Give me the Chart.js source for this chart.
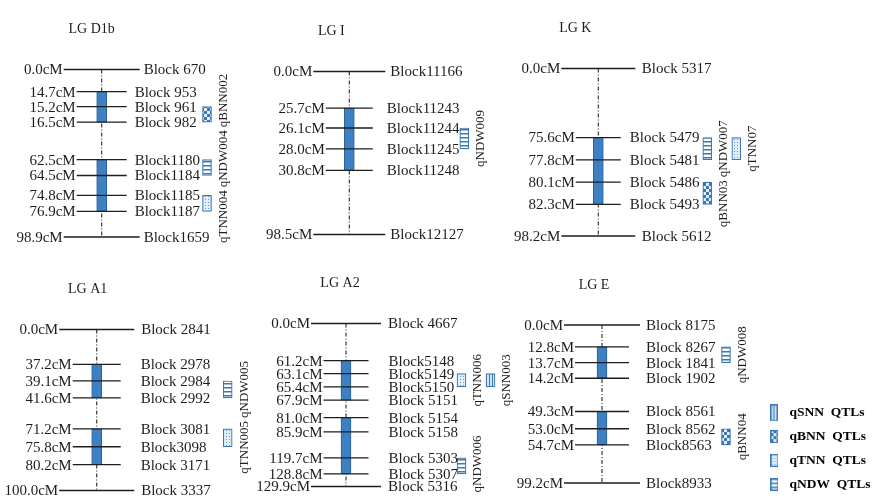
<!DOCTYPE html>
<html>
<head>
<meta charset="utf-8">
<script src="https://cdn.jsdelivr.net/npm/chart.js@4.4.1/dist/chart.umd.min.js"></script>
<style>
  html, body { margin: 0; padding: 0; background: #fff; width: 872px; height: 502px; overflow: hidden; position: relative; }
  canvas { position: absolute; }
</style>
</head>
<body>
<script>
// ---- data ----
const groupNames = ['LG D1b', 'LG I', 'LG K', 'LG A1', 'LG A2', 'LG E'];

const d1bCM = [0.0, 14.7, 15.2, 16.5, 62.5, 64.5, 74.8, 76.9, 98.9];
const d1bBlocks = ['Block 670', 'Block 953', 'Block 961', 'Block 982', 'Block1180', 'Block1184', 'Block1185', 'Block1187', 'Block1659'];
const d1bSegments = [[14.7, 16.5], [62.5, 76.9]];
const d1bQtls = ['qBNN002', 'qNDW004', 'qTNN004'];
const d1bQtlSpans = [[15.2, 16.5], [62.5, 64.5], [74.8, 76.9]];

const lgiCM = [0.0, 25.7, 26.1, 28.0, 30.8, 98.5];
const lgiBlocks = ['Block11166', 'Block11243', 'Block11244', 'Block11245', 'Block11248', 'Block12127'];
const lgiSegments = [[25.7, 30.8]];
const lgiQtls = ['qNDW009'];
const lgiQtlSpans = [[26.1, 28.0]];

const lgkCM = [0.0, 75.6, 77.8, 80.1, 82.3, 98.2];
const lgkBlocks = ['Block 5317', 'Block 5479', 'Block 5481', 'Block 5486', 'Block 5493', 'Block 5612'];
const lgkSegments = [[75.6, 82.3]];
const lgkQtls = ['qNDW007', 'qTNN07', 'qBNN03'];
const lgkQtlSpans = [[75.6, 77.8], [75.6, 77.8], [80.1, 82.3]];

const a1CM = [0.0, 37.2, 39.1, 41.6, 71.2, 75.8, 80.2, 100.0];
const a1Blocks = ['Block 2841', 'Block 2978', 'Block 2984', 'Block 2992', 'Block 3081', 'Block3098', 'Block 3171', 'Block 3337'];
const a1Segments = [[37.2, 41.6], [71.2, 80.2]];
const a1Qtls = ['qNDW005', 'qTNN005'];
const a1QtlSpans = [[39.1, 41.6], [71.2, 75.8]];

const a2CM = [0.0, 61.2, 63.1, 65.4, 67.9, 81.0, 85.9, 119.7, 128.8, 129.9];
const a2Blocks = ['Block 4667', 'Block5148', 'Block5149', 'Block5150', 'Block 5151', 'Block 5154', 'Block 5158', 'Block 5303', 'Block 5307', 'Block 5316'];
const a2Segments = [[61.2, 67.9], [81.0, 128.8]];
const a2Qtls = ['qTNN006', 'qSNN003', 'qNDW006'];
const a2QtlSpans = [[63.1, 65.4], [63.1, 65.4], [119.7, 128.8]];

const lgeCM = [0.0, 12.8, 13.7, 14.2, 49.3, 53.0, 54.7, 99.2];
const lgeBlocks = ['Block 8175', 'Block 8267', 'Block 1841', 'Block 1902', 'Block 8561', 'Block 8562', 'Block8563', 'Block8933'];
const lgeSegments = [[12.8, 14.2], [49.3, 54.7]];
const lgeQtls = ['qNDW008', 'qBNN04'];
const lgeQtlSpans = [[12.8, 13.7], [53.0, 54.7]];

const legendLabels = ['qSNN  QTLs', 'qBNN  QTLs', 'qTNN  QTLs', 'qNDW  QTLs'];
const legendTypes = ['qSNN', 'qBNN', 'qTNN', 'qNDW'];

// ---- layout (page pixels) ----
const panels = [
  { left: 0,   top: 0,   w: 300, h: 258, chromX: 101.7, y0: 69.5,  y1: 237,   endHalf: 38,   innerHalf: 25,   gapEnd: 4,   gapInner: 8,  boxOff: 105.3, titleDx: -10 },
  { left: 255, top: 0,   w: 305, h: 258, chromX: 349.3, y0: 71.5,  y1: 234.5, endHalf: 36,   innerHalf: 23.5, gapEnd: 5,   gapInner: 14, boxOff: 115,   titleDx: -18 },
  { left: 505, top: 0,   w: 367, h: 258, chromX: 598.3, y0: 68.5,  y1: 236,   endHalf: 37,   innerHalf: 22.5, gapEnd: 6.5, gapInner: 9,  boxOff: 109,   titleDx: -23 },
  { left: 0,   top: 258, w: 300, h: 244, chromX: 96.7,  y0: 329.5, y1: 490.5, endHalf: 37.5, innerHalf: 24,   gapEnd: 7,   gapInner: 20, boxOff: 131,   titleDx: -9 },
  { left: 255, top: 258, w: 305, h: 244, chromX: 346,   y0: 323.5, y1: 486.5, endHalf: 35,   innerHalf: 22.5, gapEnd: 7,   gapInner: 20, boxOff: 115.5, titleDx: -6 },
  { left: 505, top: 258, w: 367, h: 244, chromX: 602,   y0: 325,   y1: 483,   endHalf: 38,   innerHalf: 27,   gapEnd: 6,   gapInner: 17, boxOff: 124,   titleDx: -8 }
];
const LANE_GAP = 29;
const BOX_W = 9;
const SERIF = '"Liberation Serif", "Times New Roman", serif';
const MARK_FONT = '15px ' + SERIF;
const QTL_FONT = '13px ' + SERIF;
const TEXT = '#1d1d1d';
const QTL_BLUE = '#3b78b8';

const groups = [
  { cm: d1bCM, blocks: d1bBlocks, segs: d1bSegments, qtls: d1bQtls, spans: d1bQtlSpans },
  { cm: lgiCM, blocks: lgiBlocks, segs: lgiSegments, qtls: lgiQtls, spans: lgiQtlSpans },
  { cm: lgkCM, blocks: lgkBlocks, segs: lgkSegments, qtls: lgkQtls, spans: lgkQtlSpans },
  { cm: a1CM, blocks: a1Blocks, segs: a1Segments, qtls: a1Qtls, spans: a1QtlSpans },
  { cm: a2CM, blocks: a2Blocks, segs: a2Segments, qtls: a2Qtls, spans: a2QtlSpans },
  { cm: lgeCM, blocks: lgeBlocks, segs: lgeSegments, qtls: lgeQtls, spans: lgeQtlSpans }
];
groups.forEach((g, i) => { g.name = groupNames[i]; });

// schematic map position: marker order, with extra room for long distances
function mapPositions(cm) {
  const p = [0];
  for (let i = 1; i < cm.length; i++) p.push(p[i - 1] + 1 + Math.min(cm[i] - cm[i - 1], 70) / 30);
  return p;
}

function drawTile(type) {
  const c = document.createElement('canvas');
  const g = c.getContext('2d');
  if (type === 'qSNN') {
    c.width = 3; c.height = 4;
    g.fillStyle = '#d4e5f5'; g.fillRect(0, 0, 3, 4);
    g.fillStyle = QTL_BLUE; g.fillRect(0, 0, 1, 4);
  } else if (type === 'qBNN') {
    c.width = 6; c.height = 6;
    g.fillStyle = '#3a77b7'; g.fillRect(0, 0, 6, 6);
    g.fillStyle = '#e6eff9'; g.fillRect(0, 0, 3, 3); g.fillRect(3, 3, 3, 3);
  } else if (type === 'qTNN') {
    c.width = 3; c.height = 3;
    g.fillStyle = '#e4eef9'; g.fillRect(0, 0, 3, 3);
    g.fillStyle = '#6a9bd0'; g.fillRect(1, 1, 1, 1);
  } else {
    c.width = 4; c.height = 4;
    g.fillStyle = '#ffffff'; g.fillRect(0, 0, 4, 4);
    g.fillStyle = QTL_BLUE; g.fillRect(0, 1, 4, 1.5);
  }
  return c;
}

function patternsFor(ctx) {
  const out = {};
  legendTypes.forEach(t => { out[t] = ctx.createPattern(drawTile(t), 'repeat'); });
  return out;
}

function labelPlugin(grp, lay) {
  return {
    id: 'mapText',
    afterDatasetsDraw(chart) {
      const { ctx } = chart;
      const xs = chart.scales.x, ys = chart.scales.y;
      const last = grp.cm.length - 1;
      ctx.save();
      ctx.fillStyle = TEXT;
      ctx.textBaseline = 'middle';
      ctx.font = '14px ' + SERIF;
      ctx.textAlign = 'center';
      ctx.fillText(grp.name, xs.getPixelForValue(lay.titleDx), ys.getPixelForValue(0) - 40);

      ctx.font = MARK_FONT;
      grp.cm.forEach((v, i) => {
        const isEnd = i === 0 || i === last;
        const half = isEnd ? lay.endHalf : lay.innerHalf;
        const py = ys.getPixelForValue(grp.pos[i]) + 1;
        ctx.textAlign = 'right';
        ctx.fillText(v.toFixed(1) + 'cM', xs.getPixelForValue(-half) - 1, py);
        ctx.textAlign = 'left';
        ctx.fillText(grp.blocks[i], xs.getPixelForValue(half + (isEnd ? lay.gapEnd : lay.gapInner)), py);
      });

      // rotated QTL names, pushed apart so they don't overlap
      ctx.font = QTL_FONT;
      ctx.textAlign = 'center';
      const lanes = [];
      grp.items.forEach(q => {
        const a = ys.getPixelForValue(q.from), b = ys.getPixelForValue(q.to);
        (lanes[q.lane] = lanes[q.lane] || []).push({ name: q.name, lane: q.lane, c: (a + b) / 2, len: ctx.measureText(q.name).width });
      });
      const bottom = ys.getPixelForValue(grp.pos[last]) + 6;
      lanes.forEach(list => {
        list.sort((p, q) => p.c - q.c);
        let prev = -Infinity;
        list.forEach(it => { it.s = Math.max(it.c - it.len / 2, prev + 3); prev = it.s + it.len; });
        let lim = bottom;
        for (let i = list.length - 1; i >= 0; i--) {
          const it = list[i];
          if (it.s + it.len > lim) it.s = lim - it.len;
          lim = it.s - 3;
        }
        list.forEach(it => {
          const px = xs.getPixelForValue(lay.boxOff + it.lane * LANE_GAP + BOX_W / 2 + 11);
          ctx.save();
          ctx.translate(px, it.s + it.len / 2);
          ctx.rotate(-Math.PI / 2);
          ctx.fillText(it.name, 0, 1);
          ctx.restore();
        });
      });
      ctx.restore();
    }
  };
}

groups.forEach((grp, gi) => {
  const lay = panels[gi];
  const cv = document.createElement('canvas');
  cv.width = lay.w; cv.height = lay.h;
  cv.style.left = lay.left + 'px'; cv.style.top = lay.top + 'px';
  document.body.appendChild(cv);
  const pats = patternsFor(cv.getContext('2d'));

  const pos = mapPositions(grp.cm);
  grp.pos = pos;
  const last = pos.length - 1;
  const at = v => pos[grp.cm.indexOf(v)];

  grp.items = grp.qtls.map((name, i) => ({ name, type: name.slice(0, 4), from: at(grp.spans[i][0]), to: at(grp.spans[i][1]) }));
  grp.items.forEach((q, i) => {
    q.lane = 0;
    while (grp.items.slice(0, i).some(o => o.lane === q.lane && o.from < q.to && q.from < o.to)) q.lane++;
  });

  const markerPts = [];
  pos.forEach((p, i) => {
    const h = (i === 0 || i === last) ? lay.endHalf : lay.innerHalf;
    markerPts.push({ x: -h, y: p }, { x: h, y: p }, { x: h, y: null });
  });

  new Chart(cv, {
    type: 'bar',
    data: {
      datasets: [
        { type: 'line', label: 'markers', order: 0, data: markerPts, borderColor: '#1e1e1e', borderWidth: 1.3,
          pointRadius: 0, spanGaps: false, clip: false },
        { type: 'bar', label: 'segments', order: 1,
          data: grp.segs.map(s => ({ x: 0, y: [at(s[0]), at(s[1])] })),
          backgroundColor: '#3d80c4', borderColor: '#2c5f96', borderWidth: 1, borderSkipped: false,
          barThickness: 10, grouped: false, clip: false },
        { type: 'bar', label: 'QTLs', order: 1,
          data: grp.items.map(q => ({ x: lay.boxOff + q.lane * LANE_GAP, y: [q.from, q.to] })),
          backgroundColor: grp.items.map(q => pats[q.type]), borderColor: QTL_BLUE, borderWidth: 1.2,
          borderSkipped: false, barThickness: BOX_W, grouped: false, clip: false },
        { type: 'line', label: 'linkage group', order: 2, data: [{ x: 0, y: 0 }, { x: 0, y: pos[last] }],
          borderColor: '#2a2a2a', borderWidth: 1.1, borderDash: [4, 2, 1, 2], pointRadius: 0, clip: false }
      ]
    },
    options: {
      responsive: false,
      animation: false,
      events: [],
      layout: { padding: { left: 0, right: 0, top: lay.y0 - lay.top, bottom: lay.top + lay.h - lay.y1 } },
      scales: {
        x: { type: 'linear', display: false, offset: false, min: lay.left - lay.chromX, max: lay.left + lay.w - lay.chromX },
        y: { type: 'linear', display: false, min: 0, max: pos[last], reverse: true }
      },
      plugins: { legend: { display: false }, tooltip: { enabled: false } }
    },
    plugins: [labelPlugin(grp, lay)]
  });
});

// ---- legend ----
function legendIcon(type) {
  const c = document.createElement('canvas');
  c.width = 8; c.height = type === 'qSNN' ? 17 : 13;
  const g = c.getContext('2d');
  g.fillStyle = g.createPattern(drawTile(type), 'repeat');
  g.fillRect(0, 0, c.width, c.height);
  g.strokeStyle = QTL_BLUE; g.lineWidth = 1.2;
  g.strokeRect(0.6, 0.6, c.width - 1.2, c.height - 1.2);
  return c;
}

const lg = document.createElement('canvas');
lg.width = 116; lg.height = 112;
lg.style.left = '756px'; lg.style.top = '396px';
document.body.appendChild(lg);
new Chart(lg, {
  type: 'bar',
  data: { labels: [], datasets: [] },
  options: {
    responsive: false,
    animation: false,
    events: [],
    layout: { padding: 0 },
    scales: { x: { display: false }, y: { display: false } },
    plugins: {
      tooltip: { enabled: false },
      legend: {
        position: 'left',
        align: 'start',
        maxWidth: 116,
        labels: {
          usePointStyle: true,
          pointStyleWidth: 16.5,
          padding: 10.2,
          color: TEXT,
          font: { family: SERIF, size: 13.5, weight: 'bold' },
          generateLabels: () => legendLabels.map((t, i) => ({
            text: t, pointStyle: legendIcon(legendTypes[i]), fillStyle: 'transparent',
            strokeStyle: 'transparent', lineWidth: 0, hidden: false, datasetIndex: i
          }))
        }
      }
    }
  }
});
</script>
</body>
</html>
